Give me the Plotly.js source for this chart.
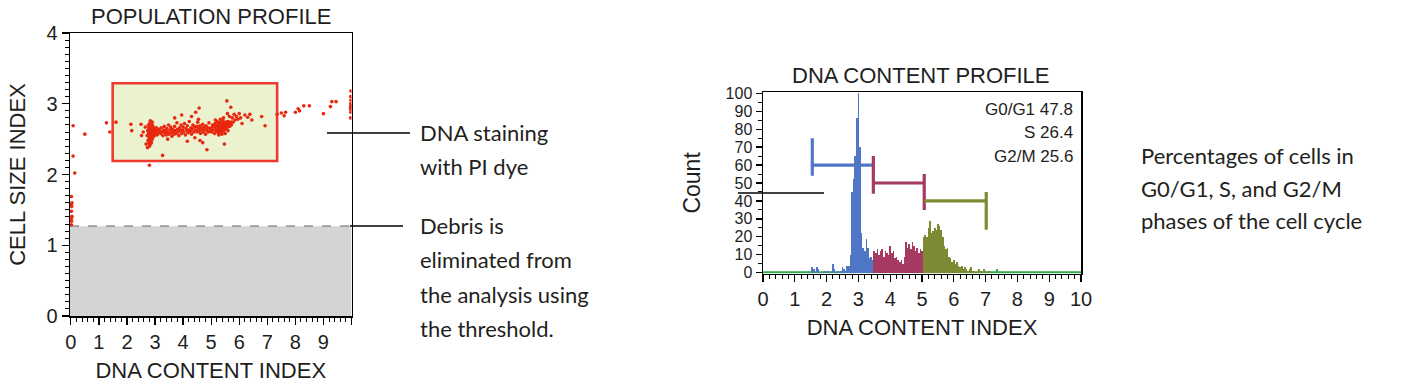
<!DOCTYPE html>
<html>
<head>
<meta charset="utf-8">
<script src="https://cdn.plot.ly/plotly-3.0.1.min.js"></script>
<style>html,body{margin:0;padding:0;background:#fff;}#chart{width:1419px;height:389px;}</style>
</head>
<body>
<div id="chart"></div>
<script>
// ---------- DATA ----------
// Population profile: gated events (DNA content index, cell size index)
const popEvents = [
 [0.02,1.29],[0.03,1.34],[0.02,1.38],[0.04,1.41],[0.02,1.48],[0.03,1.55],[0.01,1.58],[0.04,1.6],[0.02,1.69],
 [0.08,2.69],[0.5,2.57],[0.08,2.26],[0.14,2.02],[1.27,2.73],[1.39,2.6],[1.61,2.74],[2.14,2.71],[2.17,2.62],
 [2.5,2.71],[2.52,2.55],[2.68,2.43],[2.73,2.38],[2.8,2.13],[3.27,2.27],[2.58,2.6],[2.65,2.67],
 [2.72,2.55],[2.74,2.62],[2.75,2.48],[2.76,2.70],[2.77,2.58],[2.78,2.44],[2.78,2.66],[2.79,2.52],[2.80,2.60],[2.80,2.40],
 [2.81,2.72],[2.81,2.56],[2.82,2.47],[2.82,2.64],[2.83,2.53],[2.83,2.76],[2.84,2.59],[2.84,2.43],[2.85,2.68],[2.85,2.50],
 [2.86,2.62],[2.86,2.57],[2.87,2.45],[2.87,2.71],[2.88,2.54],[2.88,2.66],[2.89,2.60],[2.89,2.49],[2.90,2.74],[2.90,2.58],
 [2.91,2.63],[2.92,2.52],[2.92,2.69],[2.93,2.61],[2.94,2.56],[2.95,2.65],[2.96,2.59],[2.97,2.62],[2.98,2.55],[2.99,2.64],
 [3.00,2.60],[3.01,2.57],[3.02,2.63],[3.04,2.59],[3.05,2.66],[3.07,2.61],[3.08,2.56],[3.10,2.62],[3.12,2.60],[3.14,2.64],
 [2.79,2.58],[2.81,2.51],[2.83,2.62],[2.85,2.55],[2.87,2.60],[2.89,2.67],[2.91,2.54],[2.93,2.58],[2.80,2.66],[2.84,2.70],
 [2.88,2.62],[2.92,2.57],[2.96,2.61],[2.78,2.60],[2.82,2.64],[2.86,2.52],[2.90,2.61],[2.94,2.66],[3.00,2.59],[3.06,2.63],
 [3.16,2.62],[3.2,2.58],[3.22,2.66],[3.25,2.6],[3.28,2.55],[3.3,2.63],[3.33,2.68],[3.35,2.59],[3.38,2.62],[3.4,2.56],
 [3.42,2.65],[3.45,2.6],[3.48,2.7],[3.5,2.57],[3.53,2.63],[3.56,2.67],[3.58,2.59],[3.6,2.54],[3.62,2.64],[3.65,2.61],
 [3.68,2.57],[3.7,2.68],[3.72,2.62],[3.75,2.58],[3.78,2.73],[3.8,2.64],[3.82,2.6],[3.85,2.55],[3.88,2.66],[3.9,2.62],
 [3.93,2.7],[3.95,2.58],[3.98,2.63],[4.0,2.67],[4.02,2.6],[4.05,2.72],[4.08,2.56],[4.1,2.65],[4.13,2.62],[4.15,2.69],
 [4.18,2.59],[4.2,2.63],[4.22,2.75],[4.25,2.61],[4.28,2.66],[4.3,2.57],[4.32,2.64],[4.35,2.7],[4.38,2.6],[4.4,2.67],
 [4.42,2.52],[4.45,2.63],[4.48,2.68],[4.5,2.6],[4.52,2.74],[4.55,2.65],[4.58,2.62],[4.6,2.69],[4.62,2.58],[4.65,2.66],
 [4.68,2.63],[4.7,2.71],[4.72,2.6],[4.75,2.67],[4.78,2.64],[4.8,2.57],[4.82,2.69],[4.85,2.62],[4.88,2.66],[4.9,2.6],
 [4.92,2.73],[4.95,2.65],[4.98,2.62],[3.45,2.5],[3.7,2.8],[3.95,2.84],[4.15,2.47],[4.3,2.82],[4.45,2.88],[4.57,2.94],
 [4.6,2.48],[4.7,2.45],[4.85,2.35],[4.55,2.78],
 [5.0,2.66],[5.02,2.6],[5.05,2.7],[5.07,2.63],[5.1,2.68],[5.12,2.58],[5.14,2.72],[5.16,2.65],[5.18,2.61],[5.2,2.69],
 [5.21,2.75],[5.22,2.63],[5.24,2.67],[5.25,2.59],[5.26,2.71],[5.28,2.65],[5.29,2.62],[5.3,2.69],[5.31,2.74],[5.32,2.66],
 [5.33,2.6],[5.34,2.7],[5.35,2.64],[5.36,2.68],[5.37,2.72],[5.38,2.62],[5.39,2.67],[5.4,2.7],[5.41,2.64],[5.42,2.76],
 [5.43,2.68],[5.44,2.61],[5.45,2.71],[5.46,2.66],[5.47,2.69],[5.48,2.73],[5.49,2.64],[5.5,2.68],[5.51,2.7],[5.52,2.66],
 [5.53,2.74],[5.54,2.69],[5.55,2.65],[5.56,2.72],[5.57,2.68],[5.58,2.7],[5.6,2.75],[5.62,2.69],[5.64,2.72],[5.66,2.68],
 [5.68,2.71],[5.7,2.74],[5.72,2.7],[5.27,2.56],[5.33,2.78],[5.44,2.8],[5.5,2.58],[5.38,2.57],[5.15,2.77],[5.6,2.62],
 [5.47,2.43],[5.56,3.04],[5.65,2.82],[5.7,2.95],[5.58,2.86],
 [5.75,2.8],[5.78,2.74],[5.82,2.85],[5.85,2.77],[5.9,2.82],[5.95,2.78],[6.0,2.86],[6.05,2.8],[6.1,2.72],[6.2,2.84],
 [6.3,2.81],[6.38,2.85],[6.45,2.77],[6.8,2.82],[6.92,2.69],[7.35,2.85],[7.5,2.87],[7.6,2.83],[7.65,2.88],[8.0,2.88],
 [8.1,2.93],[8.15,2.9],[8.3,2.97],[8.5,2.97],[9.0,2.86],[9.25,2.96],[9.3,3.03],[9.45,3.03],[9.97,2.8],[9.98,2.88],
 [9.97,2.92],[9.98,2.97],[9.97,3.0],[9.98,3.05],[9.97,3.1],[9.98,3.18],[9.97,2.95]
];
const popGate = {x: [1.49, 7.35], y: [2.19, 3.29]};
const debrisThreshold = 1.27;

// DNA content histogram (bin centres, counts) per phase
const g1BinX = [1.55,1.6,1.7,1.75,1.95,2.05,2.15,2.2,2.25,2.35,2.45,2.5,2.55,2.6,2.65,2.7,2.75,2.8,2.85,2.9,2.95,3.0,3.05,3.1,3.15,3.2,3.25,3.3,3.35,3.4,3.45];
const g1Count = [3,2,3,2,1,1,1,5,2,1,1,3,2,1,4,4,10,45,52,65,86,100,70,22,14,12,19,14,8,9,7];
const sBinX = [3.5,3.55,3.6,3.65,3.7,3.75,3.8,3.85,3.9,3.95,4.0,4.05,4.1,4.15,4.2,4.25,4.3,4.35,4.4,4.45,4.5,4.55,4.6,4.65,4.7,4.75,4.8,4.85,4.9,4.95,5.0];
const sCount = [12,11,13,10,12,13,9,12,11,10,15,11,12,8,9,7,6,7,5,9,17,14,16,13,17,15,12,14,11,13,12];
const g2BinX = [5.05,5.1,5.15,5.2,5.25,5.3,5.35,5.4,5.45,5.5,5.55,5.6,5.65,5.7,5.75,5.8,5.85,5.9,5.95,6.0,6.05,6.1,6.15,6.2,6.25,6.3,6.35,6.4,6.45,6.5,6.55,6.6,6.65,6.75,6.8,6.85,6.95,7.0,7.1];
const g2Count = [20,21,20,25,29,22,23,25,24,27,26,24,20,15,13,14,9,8,6,7,5,6,4,3,4,2,3,2,1,2,3,1,1,1,2,1,2,1,1];
const otherBinX = [7.35];
const otherCount = [2];

// Gate markers
const phaseLabels = ['G0/G1', 'S', 'G2/M'];
const phasePct = [47.8, 26.4, 25.6];
const gateStart = [1.55, 3.47, 5.07];
const gateEnd = [3.47, 5.07, 7.02];
const gateLevel = [60, 50, 40];
const gateStartCap = [[54, 75], [44, 65], null];
const gateEndCap = [null, [35, 55], [24, 45]];
const phaseColors = ['#4f77c6', '#a63a62', '#7e8a33'];

// ---------- LAYOUT HELPERS ----------
const W = 1419, H = 389;
const px = v => v / W;
const py = v => 1 - v / H;
const FONT = 'Liberation Sans, Arial, sans-serif';
const NOTE = 'Lato, sans-serif';
const INK = '#1e1e1e';

const traces = [];
traces.push({
  type: 'scatter', mode: 'markers', xaxis: 'x', yaxis: 'y',
  x: popEvents.map(p => p[0]), y: popEvents.map(p => p[1]),
  marker: {size: 3.6, color: '#e8280f'}, hoverinfo: 'x+y', showlegend: false
});

const barSets = [[g1BinX, g1Count, phaseColors[0]], [sBinX, sCount, phaseColors[1]], [g2BinX, g2Count, phaseColors[2]], [otherBinX, otherCount, '#2fa84a']];
barSets.forEach(([bx, by, c]) => traces.push({
  type: 'bar', xaxis: 'x2', yaxis: 'y2', x: bx, y: by, width: bx.map(() => 0.052),
  marker: {color: c, line: {width: 0}}, showlegend: false
}));

// bracket markers
for (let i = 0; i < gateStart.length; i++) {
  const xs = [gateStart[i], gateEnd[i]], ys = [gateLevel[i], gateLevel[i]];
  if (gateStartCap[i]) { xs.push(null, gateStart[i], gateStart[i]); ys.push(null, gateStartCap[i][0], gateStartCap[i][1]); }
  if (gateEndCap[i]) { xs.push(null, gateEnd[i], gateEnd[i]); ys.push(null, gateEndCap[i][0], gateEndCap[i][1]); }
  traces.push({type: 'scatter', mode: 'lines', xaxis: 'x2', yaxis: 'y2', x: xs, y: ys,
    line: {color: phaseColors[i], width: 3.2}, connectgaps: false, showlegend: false, hoverinfo: 'skip'});
}

const axisBase = {
  showline: true, mirror: true, linecolor: '#000', linewidth: 1.5,
  ticks: 'outside', tickcolor: '#000', tickwidth: 1.3, ticklen: 7,
  showgrid: false, zeroline: false, fixedrange: true,
  tickfont: {family: FONT, size: 20, color: INK}
};

const layout = {
  width: W, height: H, margin: {l: 0, r: 0, t: 0, b: 0},
  paper_bgcolor: '#fff', plot_bgcolor: '#fff', showlegend: false, bargap: 0,
  xaxis: Object.assign({}, axisBase, {
    domain: [px(70), px(351.5)], range: [-0.03, 10], anchor: 'y',
    tickvals: [0,1,2,3,4,5,6,7,8,9,10], ticktext: ['0','1','2','3','4','5','6','7','8','9',''],
    minor: {dtick: 0.2, ticks: 'outside', ticklen: 4, tickcolor: '#000', tickwidth: 1},
    title: {text: 'DNA CONTENT INDEX', font: {family: FONT, size: 22, color: INK}, standoff: 11}
  }),
  yaxis: Object.assign({}, axisBase, {
    domain: [1 - 316 / H, 1 - 33 / H], range: [0, 4], anchor: 'x', dtick: 1, tick0: 0,
    minor: {dtick: 0.1, ticks: 'outside', ticklen: 4, tickcolor: '#000', tickwidth: 1},
    title: {text: 'CELL SIZE INDEX', font: {family: FONT, size: 22, color: INK}, standoff: 14}
  }),
  xaxis2: Object.assign({}, axisBase, {
    domain: [px(763), px(1081)], range: [0, 10], anchor: 'y2', dtick: 1, tick0: 0,
    minor: {dtick: 0.2, ticks: 'outside', ticklen: 4, tickcolor: '#000', tickwidth: 1},
    title: {text: 'DNA CONTENT INDEX', font: {family: FONT, size: 22, color: INK}, standoff: 10}
  }),
  yaxis2: Object.assign({}, axisBase, {
    domain: [1 - 273.5 / H, 1 - 92.3 / H], range: [-0.45, 100.55], anchor: 'x2', dtick: 10, tick0: 0, ticklen: 6,
    tickfont: {family: FONT, size: 16, color: INK},
    minor: {dtick: 5, ticks: 'outside', ticklen: 3.5, tickcolor: '#000', tickwidth: 1},
    title: {text: 'Count', font: {family: FONT, size: 23, color: INK}, standoff: 18}
  }),
  shapes: [
    {type: 'rect', xref: 'x', yref: 'y', x0: -0.03, x1: 10, y0: 0, y1: debrisThreshold, fillcolor: '#d4d4d4', line: {width: 0}, layer: 'below'},
    {type: 'line', xref: 'x', yref: 'y', x0: -0.03, x1: 10, y0: debrisThreshold, y1: debrisThreshold, line: {color: '#9c9c9c', width: 1.6, dash: 'dash'}, layer: 'below'},
    {type: 'rect', xref: 'x', yref: 'y', x0: popGate.x[0], x1: popGate.x[1], y0: popGate.y[0], y1: popGate.y[1], fillcolor: '#eaf2d0', line: {color: '#ef3b2f', width: 2.6}, layer: 'below'},
    {type: 'line', xref: 'x2', yref: 'y2', x0: 0, x1: 10, y0: 0.3, y1: 0.3, line: {color: '#2fa84a', width: 2}, layer: 'below'},
    {type: 'line', xref: 'paper', yref: 'paper', x0: px(327), x1: px(410), y0: py(133), y1: py(133), line: {color: '#000', width: 1.6}},
    {type: 'line', xref: 'paper', yref: 'paper', x0: px(350), x1: px(403), y0: py(226), y1: py(226), line: {color: '#000', width: 1.6}},
    {type: 'line', xref: 'paper', yref: 'paper', x0: px(738), x1: px(824), y0: py(193), y1: py(193), line: {color: '#000', width: 1.6}}
  ],
  annotations: []
};

const A = layout.annotations;
const addText = (text, x, y, o) => A.push(Object.assign({xref: 'paper', yref: 'paper', x: px(x), y: py(y), text: text, showarrow: false, xanchor: 'left', yanchor: 'middle'}, o));
addText('POPULATION PROFILE', 210.5, 17, {xanchor: 'center', font: {family: FONT, size: 22, color: INK}});
addText('DNA CONTENT PROFILE', 921.5, 76, {xanchor: 'center', font: {family: FONT, size: 22, color: INK}});
phaseLabels.forEach((lab, i) => addText(lab + ' ' + phasePct[i].toFixed(1), 1075, 109 + i * 23.5, {xanchor: 'right', font: {family: FONT, size: 17, color: INK}}));

const noteFont = {family: NOTE, size: 22, color: '#231f20'};
[['DNA staining', 132], ['with PI dye', 166], ['Debris is', 225], ['eliminated from', 259], ['the analysis using', 294], ['the threshold.', 328]]
  .forEach(([t, y]) => addText(t, 418, y, {font: noteFont}));
[['Percentages of cells in', 155], ['G0/G1, S, and G2/M', 188], ['phases of the cell cycle', 220]]
  .forEach(([t, y]) => addText(t, 1139, y, {font: noteFont}));

Plotly.newPlot('chart', traces, layout, {displayModeBar: false, staticPlot: true});
</script>
</body>
</html>
